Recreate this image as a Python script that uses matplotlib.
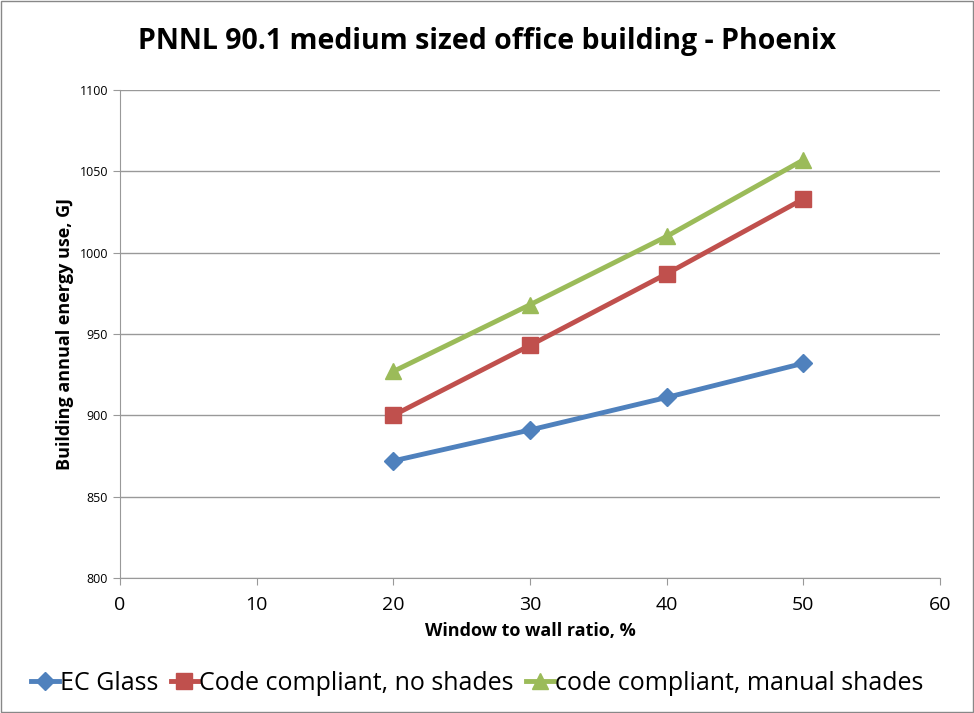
import numpy as np
import matplotlib.pyplot as plt
from matplotlib.patches import Rectangle

plt.rcParams['font.family'] = ['Open Sans', 'DejaVu Sans']

wwr = [20, 30, 40, 50]
ec_glass = [872, 891, 911, 932]
no_shades = [900, 943, 987, 1033]
manual_shades = [927, 968, 1010, 1057]

fig = plt.figure(figsize=(9.74, 7.13), dpi=100)
ax = fig.add_axes([0.1232, 0.1893, 0.8419, 0.6845])

ax.plot(wwr, ec_glass, color='#4F81BD', lw=3.5, marker='D', ms=9, label='EC Glass')
ax.plot(wwr, no_shades, color='#C0504D', lw=3.5, marker='s', ms=11, label='Code compliant, no shades')
ax.plot(wwr, manual_shades, color='#9BBB59', lw=3.5, marker='^', ms=12, label='code compliant, manual shades')

ax.set_xlim(0, 60)
ax.set_ylim(800, 1100)
ax.set_xticks(np.arange(0, 61, 10))
ax.set_yticks(np.arange(800, 1101, 50))
ax.yaxis.grid(True, color='#999999', lw=1)
ax.set_axisbelow(True)
for s in ['top', 'right']:
    ax.spines[s].set_visible(False)
for s in ['left', 'bottom']:
    ax.spines[s].set_color('#999999')
ax.tick_params(axis='y', labelsize=9, color='#999999', length=5)
ax.tick_params(axis='x', labelsize=14, color='#999999', length=5, pad=8)

ax.set_xlabel('Window to wall ratio, %', fontsize=13, fontweight='bold', labelpad=6)
ax.set_ylabel('Building annual energy use, GJ', fontsize=13, fontweight='bold')
fig.suptitle('PNNL 90.1 medium sized office building - Phoenix', fontsize=20.5,
             fontweight='bold', y=0.962)

fig.legend(loc='lower center', bbox_to_anchor=(0.49, -0.008), ncol=3, fontsize=18,
           frameon=False, handlelength=1.1, handletextpad=0.05, columnspacing=0.5)

fig.patches.append(Rectangle((0.001, 0.001), 0.998, 0.998, transform=fig.transFigure,
                             fill=False, edgecolor='#888888', lw=1))

fig.savefig('out.png', dpi=100)
